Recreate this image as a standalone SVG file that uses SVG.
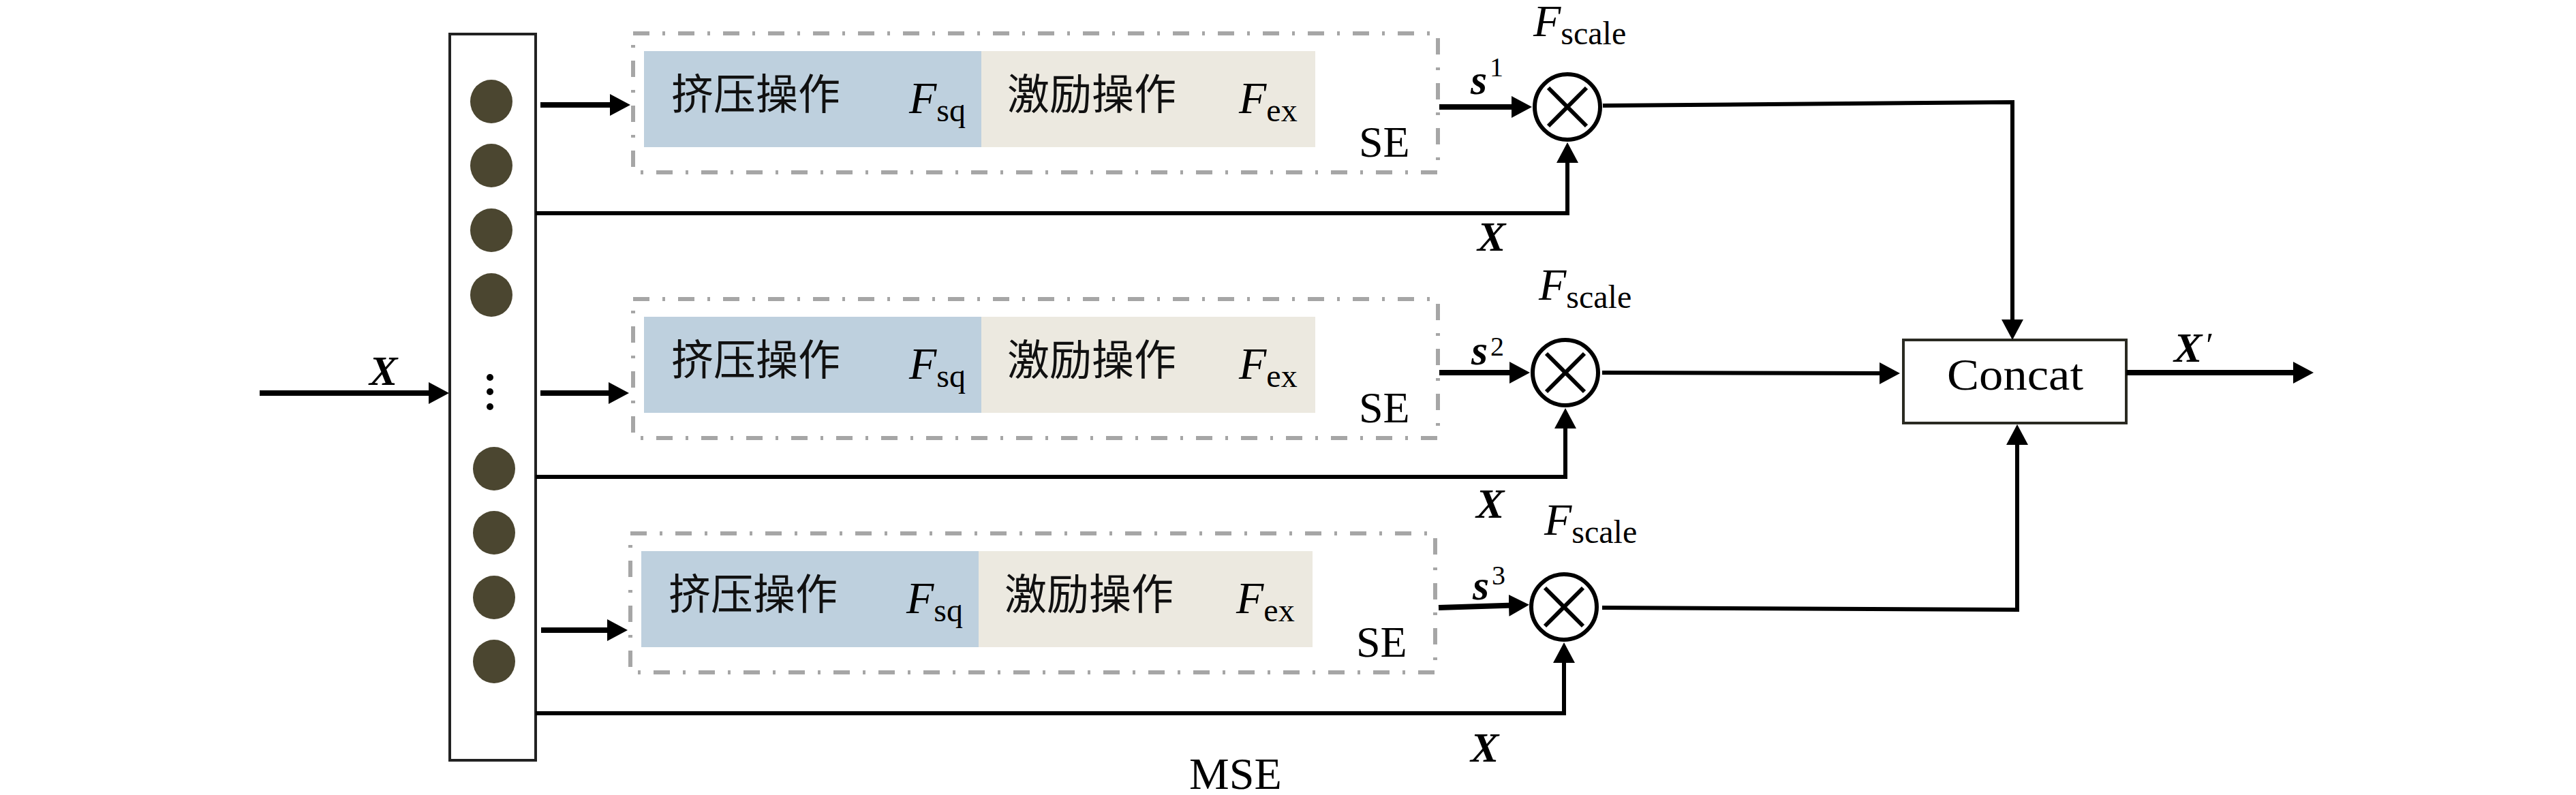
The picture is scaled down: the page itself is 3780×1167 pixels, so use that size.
<svg xmlns="http://www.w3.org/2000/svg" width="3780" height="1167" viewBox="0 0 3780 1167">
<style>
.serif{font-family:"Liberation Serif","DejaVu Serif",serif;fill:#000}
.cjk{font-family:"Noto Sans CJK SC","Noto Sans CJK JP",sans-serif;font-size:62px;fill:#111}
.it{font-style:italic}
.bi{font-style:italic;font-weight:bold}
.sub{font-style:normal;font-weight:normal}
.se{fill:none;stroke:#a6a6a6;stroke-width:6;stroke-dasharray:24 19 4 19}
.thick{fill:none;stroke:#000;stroke-width:8}
.thin{fill:none;stroke:#000;stroke-width:6}
.dot{fill:#4b4630}
.mul circle{fill:#fff;stroke:#000;stroke-width:6}
.mul line{stroke:#000;stroke-width:6}
</style>
<defs>
<marker id="ah" markerUnits="userSpaceOnUse" markerWidth="32" markerHeight="32" refX="22" refY="16" orient="auto">
<path d="M0,0 L30,16 L0,32 Z" fill="#000"/>
</marker>
<g id="seblock">
<rect class="se" x="929" y="49" width="1181" height="204"/>
<rect x="945" y="75" width="495" height="141" fill="#bed0de"/>
<rect x="1440" y="75" width="490" height="141" fill="#ece9e0"/>
<text class="cjk" x="985" y="161" font-size="64">挤压操作</text>
<text class="serif it" x="1334" y="166" font-size="66">F<tspan class="sub" font-size="48" dy="12">sq</tspan></text>
<text class="cjk" x="1478" y="161" font-size="64">激励操作</text>
<text class="serif it" x="1818" y="166" font-size="66">F<tspan class="sub" font-size="48" dy="12">ex</tspan></text>
<text class="serif" x="1994" y="230" font-size="64">SE</text>
</g>
</defs>

<g id="input-column">
<rect x="660" y="50" width="126" height="1066" fill="#fff" stroke="#222" stroke-width="4"/>
<ellipse class="dot" cx="721" cy="149" rx="31" ry="32"/>
<ellipse class="dot" cx="721" cy="243" rx="31" ry="32"/>
<ellipse class="dot" cx="721" cy="338" rx="31" ry="32"/>
<ellipse class="dot" cx="721" cy="433" rx="31" ry="32"/>
<circle cx="719" cy="554" r="5" fill="#000"/>
<circle cx="719" cy="575" r="5" fill="#000"/>
<circle cx="719" cy="597" r="5" fill="#000"/>
<ellipse class="dot" cx="725" cy="688" rx="31" ry="32"/>
<ellipse class="dot" cx="725" cy="782" rx="31" ry="32"/>
<ellipse class="dot" cx="725" cy="877" rx="31" ry="32"/>
<ellipse class="dot" cx="725" cy="971" rx="31" ry="32"/>
</g>

<g id="se1"><use href="#seblock"/></g>
<g id="se2"><use href="#seblock" transform="translate(0,390)"/></g>
<g id="se3"><use href="#seblock" transform="translate(-4,734)"/></g>

<g id="mul1" class="mul">
<circle cx="2300" cy="157" r="48"/>
<line x1="2272" y1="129" x2="2328" y2="185"/><line x1="2328" y1="129" x2="2272" y2="185"/>
</g>
<g id="mul2" class="mul">
<circle cx="2297" cy="547" r="48"/>
<line x1="2269" y1="519" x2="2325" y2="575"/><line x1="2325" y1="519" x2="2269" y2="575"/>
</g>
<g id="mul3" class="mul">
<circle cx="2295" cy="891" r="48"/>
<line x1="2267" y1="863" x2="2323" y2="919"/><line x1="2323" y1="863" x2="2267" y2="919"/>
</g>

<g id="concat">
<rect x="2793" y="499" width="327" height="122" fill="#fff" stroke="#2a2a22" stroke-width="4"/>
<text class="serif" x="2857" y="572" font-size="66" textLength="200" lengthAdjust="spacingAndGlyphs">Concat</text>
</g>

<g id="connectors">
<path class="thick" d="M381,577 H651" marker-end="url(#ah)"/>
<path class="thick" d="M793,154 H917" marker-end="url(#ah)"/>
<path class="thick" d="M793,577 H915" marker-end="url(#ah)"/>
<path class="thick" d="M794,925 H913" marker-end="url(#ah)"/>
<path class="thick" d="M2112,157 H2240" marker-end="url(#ah)"/>
<path class="thick" d="M2112,547 H2237" marker-end="url(#ah)"/>
<path class="thick" d="M2111,892 L2236,888" marker-end="url(#ah)"/>
<path class="thin" d="M786,313 H2300 V217" marker-end="url(#ah)"/>
<path class="thin" d="M786,700 H2297 V607" marker-end="url(#ah)"/>
<path class="thin" d="M786,1047 H2295 V951" marker-end="url(#ah)"/>
<path class="thin" d="M2352,155 L2953,150 V491" marker-end="url(#ah)"/>
<path class="thin" d="M2351,547 L2780,548" marker-end="url(#ah)"/>
<path class="thin" d="M2351,892 L2960,895 V631" marker-end="url(#ah)"/>
<path class="thick" d="M3120,547 H3387" marker-end="url(#ah)"/>
</g>

<g id="labels">
<text class="serif bi" x="542" y="565" font-size="62">X</text>
<text class="serif bi" x="2158" y="138" font-size="62">s</text>
<text class="serif" x="2186" y="112" font-size="40">1</text>
<text class="serif bi" x="2159" y="535" font-size="62">s</text>
<text class="serif" x="2187" y="522" font-size="40">2</text>
<text class="serif bi" x="2161" y="880" font-size="62">s</text>
<text class="serif" x="2189" y="858" font-size="40">3</text>
<text class="serif it" x="2250" y="53" font-size="66">F<tspan class="sub" font-size="48" dy="12">scale</tspan></text>
<text class="serif it" x="2258" y="440" font-size="66">F<tspan class="sub" font-size="48" dy="12">scale</tspan></text>
<text class="serif it" x="2266" y="785" font-size="66">F<tspan class="sub" font-size="48" dy="12">scale</tspan></text>
<text class="serif bi" x="2168" y="368" font-size="62">X</text>
<text class="serif bi" x="2166" y="760" font-size="62">X</text>
<text class="serif bi" x="2158" y="1118" font-size="62">X</text>
<text class="serif bi" x="3190" y="531" font-size="62">X<tspan class="sub" font-size="50" dx="6" dy="-8">′</tspan></text>
<text class="serif" x="1745" y="1158" font-size="66">MSE</text>
</g>
</svg>
